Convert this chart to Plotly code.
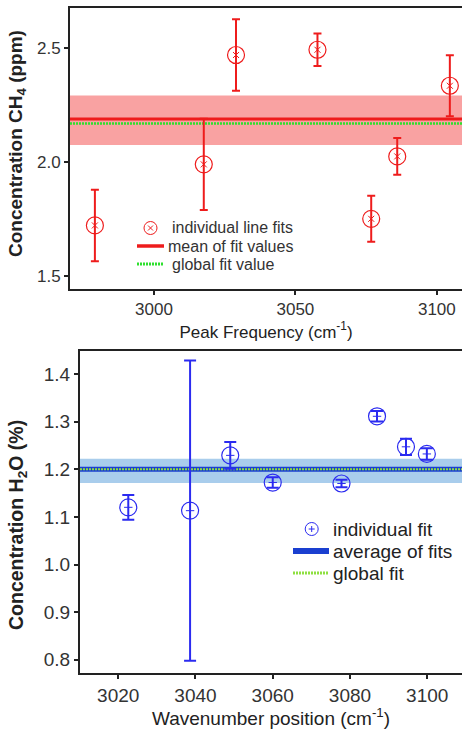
import plotly.graph_objects as go

# ---------------- data ----------------
ch4_freq = [2979.1, 3017.6, 3029.0, 3057.8, 3076.8, 3086.0, 3104.6]
ch4_conc = [1.722, 1.990, 2.470, 2.493, 1.751, 2.025, 2.335]
ch4_err = [0.157, 0.200, 0.157, 0.071, 0.101, 0.081, 0.134]
ch4_mean = 2.189
ch4_global = 2.169
ch4_band = [2.075, 2.292]
ch4_xticks = [3000, 3050, 3100]
ch4_yticks = [1.5, 2.0, 2.5]
ch4_legend = ["individual line fits", "mean of fit values", "global fit value"]

h2o_pos = [3022.6, 3038.6, 3049.0, 3060.0, 3077.8, 3087.0, 3094.5, 3099.9]
h2o_conc = [1.120, 1.113, 1.229, 1.172, 1.170, 1.311, 1.247, 1.232]
h2o_err = [0.026, 0.315, 0.028, 0.011, 0.008, 0.011, 0.017, 0.012]
h2o_mean = 1.200
h2o_global = 1.200
h2o_band = [1.171, 1.222]
h2o_xticks = [3020, 3040, 3060, 3080, 3100]
h2o_yticks = [0.8, 0.9, 1.0, 1.1, 1.2, 1.3, 1.4]
h2o_legend = ["individual fit", "average of fits", "global fit"]

W, H = 462, 733
FONT = "Arial, Liberation Sans, sans-serif"
RED = "#ee1c1c"
BLUE = "#2b2bf0"
GREEN_T = "#2ee02e"
GREEN_B = "#8ee040"
AX = "#222222"


def px(x):
    return x / W


def py(y):
    return 1 - y / H


fig = go.Figure()

# CH4 individual fits: error bars + open circle, small x inside
fig.add_trace(go.Scatter(
    x=ch4_freq, y=ch4_conc, mode="markers", xaxis="x", yaxis="y",
    marker=dict(symbol="circle-open", size=17, color=RED, line=dict(width=1.2, color=RED)),
    error_y=dict(type="data", array=ch4_err, color=RED, thickness=2, width=4),
    showlegend=False, name=ch4_legend[0]))
fig.add_trace(go.Scatter(
    x=ch4_freq, y=ch4_conc, mode="markers", xaxis="x", yaxis="y",
    marker=dict(symbol="x-thin-open", size=6, color=RED, line=dict(width=1, color=RED)),
    showlegend=False, hoverinfo="skip"))

# H2O individual fits
fig.add_trace(go.Scatter(
    x=h2o_pos, y=h2o_conc, mode="markers", xaxis="x2", yaxis="y2",
    marker=dict(symbol="circle-open", size=17, color=BLUE, line=dict(width=1.2, color=BLUE)),
    error_y=dict(type="data", array=h2o_err, color=BLUE, thickness=2, width=6),
    showlegend=False, name=h2o_legend[0]))
fig.add_trace(go.Scatter(
    x=h2o_pos, y=h2o_conc, mode="markers", xaxis="x2", yaxis="y2",
    marker=dict(symbol="line-ew-open", size=6, color=BLUE, line=dict(width=1, color=BLUE)),
    showlegend=False, hoverinfo="skip"))

shapes = [
    # CH4 band, mean, global
    dict(type="rect", xref="x domain", yref="y", x0=0, x1=1, y0=ch4_band[0], y1=ch4_band[1],
         fillcolor="#f9a2a2", line=dict(width=0), layer="below"),
    dict(type="line", xref="x domain", yref="y", x0=0, x1=1, y0=ch4_mean, y1=ch4_mean,
         line=dict(color=RED, width=3), layer="below"),
    dict(type="line", xref="x domain", yref="y", x0=0, x1=1, y0=ch4_global, y1=ch4_global,
         line=dict(color=GREEN_T, width=2.5, dash="2px,1px"), layer="below"),
    # H2O band, mean, global
    dict(type="rect", xref="x2 domain", yref="y2", x0=0, x1=1, y0=h2o_band[0], y1=h2o_band[1],
         fillcolor="#a9cdec", line=dict(width=0), layer="below"),
    dict(type="line", xref="x2 domain", yref="y2", x0=0, x1=1, y0=h2o_mean, y1=h2o_mean,
         line=dict(color="#1a3fd0", width=5), layer="below"),
    dict(type="line", xref="x2 domain", yref="y2", x0=0, x1=1, y0=h2o_global, y1=h2o_global,
         line=dict(color=GREEN_B, width=2, dash="2px,1px"), layer="below"),
]

annotations = []

# ---- manual legend, top panel ----
lx0, lx1 = 137, 164
rows_t = [228, 246, 264]
cx, cy, r = (lx0 + lx1) / 2, rows_t[0], 6.5
shapes.append(dict(type="circle", xref="paper", yref="paper", xsizemode="pixel", ysizemode="pixel",
                   xanchor=px(cx), yanchor=py(cy), x0=-r, x1=r, y0=-r, y1=r,
                   line=dict(color=RED, width=1)))
for s in (1, -1):
    shapes.append(dict(type="line", xref="paper", yref="paper", xsizemode="pixel", ysizemode="pixel",
                       xanchor=px(cx), yanchor=py(cy), x0=-2.5, x1=2.5, y0=-2.5 * s, y1=2.5 * s,
                       line=dict(color=RED, width=1)))
shapes.append(dict(type="line", xref="paper", yref="paper", x0=px(lx0), x1=px(lx1),
                   y0=py(rows_t[1]), y1=py(rows_t[1]), line=dict(color=RED, width=3.5)))
shapes.append(dict(type="line", xref="paper", yref="paper", x0=px(lx0), x1=px(lx1),
                   y0=py(rows_t[2]), y1=py(rows_t[2]), line=dict(color=GREEN_T, width=3, dash="2px,1px")))
for lab, yy, xx in zip(ch4_legend, rows_t, [170, 166, 170]):
    annotations.append(dict(text=lab, xref="paper", yref="paper", x=px(xx), y=py(yy),
                            xanchor="left", yanchor="middle", showarrow=False,
                            font=dict(family=FONT, size=16, color="#333")))

# ---- manual legend, bottom panel ----
bx0, bx1 = 293, 329
rows_b = [529, 551, 573]
cx, cy, r = 311.7, rows_b[0], 6.5
shapes.append(dict(type="circle", xref="paper", yref="paper", xsizemode="pixel", ysizemode="pixel",
                   xanchor=px(cx), yanchor=py(cy), x0=-r, x1=r, y0=-r, y1=r,
                   line=dict(color=BLUE, width=1)))
shapes.append(dict(type="line", xref="paper", yref="paper", xsizemode="pixel", ysizemode="pixel",
                   xanchor=px(cx), yanchor=py(cy), x0=-3, x1=3, y0=0, y1=0, line=dict(color=BLUE, width=1)))
shapes.append(dict(type="line", xref="paper", yref="paper", xsizemode="pixel", ysizemode="pixel",
                   xanchor=px(cx), yanchor=py(cy), x0=0, x1=0, y0=-3, y1=3, line=dict(color=BLUE, width=1)))
shapes.append(dict(type="line", xref="paper", yref="paper", x0=px(bx0), x1=px(bx1),
                   y0=py(rows_b[1]), y1=py(rows_b[1]), line=dict(color="#1a3fd0", width=6)))
shapes.append(dict(type="line", xref="paper", yref="paper", x0=px(bx0), x1=px(bx1),
                   y0=py(rows_b[2]), y1=py(rows_b[2]), line=dict(color=GREEN_B, width=3, dash="2px,1px")))
for lab, yy in zip(h2o_legend, rows_b):
    annotations.append(dict(text=lab, xref="paper", yref="paper", x=px(331), y=py(yy),
                            xanchor="left", yanchor="middle", showarrow=False,
                            font=dict(family=FONT, size=19, color="#222")))

# ---- y titles ----
annotations.append(dict(text="<b>Concentration CH<sub>4</sub> (ppm)</b>", xref="paper", yref="paper",
                        x=px(17), y=py(144), textangle=-90, showarrow=False,
                        xanchor="center", yanchor="middle",
                        font=dict(family=FONT, size=19, color="#222")))
annotations.append(dict(text="<b>Concentration H<sub>2</sub>O (%)</b>", xref="paper", yref="paper",
                        x=px(17), y=py(525), textangle=-90, showarrow=False,
                        xanchor="center", yanchor="middle",
                        font=dict(family=FONT, size=19.5, color="#222")))

axis_common = dict(showline=True, linecolor=AX, linewidth=2, ticks="outside", ticklen=4,
                   tickwidth=1.5, tickcolor=AX, showgrid=False, zeroline=False, automargin=False)

fig.update_layout(
    width=W, height=H, margin=dict(l=0, r=0, t=0, b=0),
    paper_bgcolor="white", plot_bgcolor="white",
    font=dict(family=FONT, color="#333"),
    shapes=shapes, annotations=annotations, showlegend=False,
    xaxis=dict(domain=[px(70), 1], anchor="y", range=[2970.3, 3108.9], tickvals=ch4_xticks,
               mirror=True, tickfont=dict(size=17, color="#333"),
               title=dict(text="Peak Frequency (cm<sup>-1</sup>)", font=dict(size=17, color="#222"),
                          standoff=6), **axis_common),
    yaxis=dict(domain=[py(289), py(8.3)], anchor="x", range=[1.443, 2.675], tickvals=ch4_yticks,
               tickformat=".1f", tickfont=dict(size=17, color="#333"), **axis_common),
    xaxis2=dict(domain=[px(80), 1], anchor="y2", range=[3010.1, 3109.0], tickvals=h2o_xticks,
                mirror=True, tickfont=dict(size=19, color="#333"),
                title=dict(text="Wavenumber position (cm<sup>-1</sup>)", font=dict(size=19, color="#222"),
                           standoff=4), **axis_common),
    yaxis2=dict(domain=[py(672.7), py(351)], anchor="x2", range=[0.773, 1.448], tickvals=h2o_yticks,
                tickformat=".1f", tickfont=dict(size=19, color="#333"), **axis_common),
)

fig.write_html("out.html", config={"displayModeBar": False},
               post_script="document.body.style.margin='0';document.body.style.overflow='hidden';")
